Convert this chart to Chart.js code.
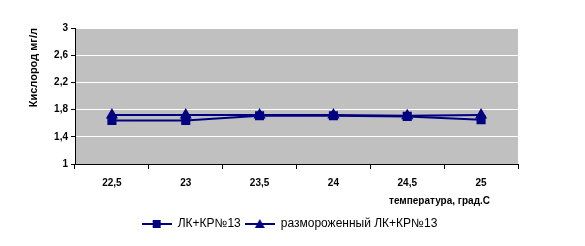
<!DOCTYPE html>
<html>
<head>
<meta charset="utf-8">
<script src="https://cdn.jsdelivr.net/npm/chart.js@4"></script>
<style>
  html, body { margin: 0; padding: 0; background: #fff; }
  #wrap { width: 585px; height: 246px; }
</style>
</head>
<body>
<div id="wrap"><canvas id="kislorodChart" width="585" height="246"></canvas></div>
<script>
// данные
const temperatury = ['22,5', '23', '23,5', '24', '24,5', '25'];
const lkKrp = [1.64, 1.64, 1.71, 1.71, 1.70, 1.65];
const razmorozhLkKrp = [1.72, 1.72, 1.72, 1.72, 1.71, 1.72];
const yTicks = [1, 1.4, 1.8, 2.2, 2.6, 3];

const navy = '#000080';

// значок для легенды: линия + маркер
function legendIcon(kind) {
    const c = document.createElement('canvas');
    c.width = 30; c.height = 10;
    const g = c.getContext('2d');
    g.strokeStyle = navy; g.fillStyle = navy; g.lineWidth = 2;
    g.beginPath(); g.moveTo(0, 5); g.lineTo(30, 5); g.stroke();
    if (kind === 'rect') {
        g.fillRect(11, 1, 8, 8);
    } else {
        g.beginPath(); g.moveTo(15, 0); g.lineTo(20, 9); g.lineTo(10, 9); g.closePath(); g.fill();
    }
    return c;
}

const plotFon = {
    id: 'plotFon',
    afterLayout(chart) {
        // легенда центрирована по всему рисунку, а не по области слева
        chart.legend.left += 17;
        chart.legend.right += 17;
    },
    beforeDraw(chart) {
        const a = chart.chartArea, ctx = chart.ctx;
        ctx.save();
        ctx.fillStyle = '#c0c0c0';
        ctx.fillRect(a.left, a.top, a.right - a.left, a.bottom - a.top);
        ctx.restore();
    },
    afterDraw(chart) {
        const ctx = chart.ctx;
        ctx.save();
        ctx.font = 'bold 10px "Liberation Sans", Arial, sans-serif';
        ctx.fillStyle = '#000';
        ctx.textAlign = 'right';
        ctx.textBaseline = 'middle';
        ctx.fillText('температура, град.С', 490, 201);
        ctx.restore();
    }
};

const ctx1 = document.getElementById('kislorodChart').getContext('2d');
const kislorodChart = new Chart(ctx1, {
    type: 'line',
    data: {
        labels: temperatury,
        datasets: [{
            label: 'ЛК+КР№13',
            data: lkKrp,
            borderColor: navy,
            backgroundColor: navy,
            borderWidth: 2,
            pointStyle: 'rect',
            pointRadius: 5,
            tension: 0
        }, {
            label: 'размороженный ЛК+КР№13',
            data: razmorozhLkKrp,
            borderColor: navy,
            backgroundColor: navy,
            borderWidth: 2,
            pointStyle: 'triangle',
            pointRadius: 5,
            tension: 0
        }]
    },
    options: {
        responsive: false,
        animation: false,
        layout: { padding: { top: 28, right: 67, left: 27, bottom: 6 } },
        plugins: {
            tooltip: { enabled: false },
            legend: {
                display: true,
                position: 'bottom',
                labels: {
                    usePointStyle: true,
                    pointStyleWidth: 30,
                    color: '#000',
                    font: { family: '"Liberation Sans", Arial, sans-serif', size: 12 },
                    padding: 4,
                    generateLabels(chart) {
                        return chart.data.datasets.map((ds, i) => ({
                            text: ds.label,
                            fillStyle: navy,
                            strokeStyle: navy,
                            lineWidth: 0,
                            pointStyle: legendIcon(ds.pointStyle),
                            datasetIndex: i,
                            fontColor: '#000'
                        }));
                    }
                }
            }
        },
        scales: {
            x: {
                offset: true,
                grid: {
                    offset: true,
                    drawOnChartArea: false,
                    drawTicks: true,
                    tickLength: 5,
                    color: '#000'
                },
                border: { color: '#000', width: 1 },
                ticks: {
                    color: '#000',
                    padding: 8,
                    font: { family: '"Liberation Sans", Arial, sans-serif', size: 10, weight: 'bold' }
                },
                afterFit(s) { s.height = 50; }
            },
            y: {
                min: 1,
                max: 3,
                afterBuildTicks(s) { s.ticks = yTicks.map(v => ({ value: v })); },
                grid: {
                    color: '#fff',
                    lineWidth: 1,
                    drawTicks: true,
                    tickLength: 4,
                    tickColor: '#000'
                },
                border: { color: '#000', width: 1 },
                ticks: {
                    color: '#000',
                    padding: 3,
                    font: { family: '"Liberation Sans", Arial, sans-serif', size: 10, weight: 'bold' },
                    callback: v => String(Math.round(v * 10) / 10).replace('.', ',')
                },
                title: {
                    display: true,
                    text: 'Кислород мг/л',
                    align: 'end',
                    color: '#000',
                    padding: { top: 0, bottom: 10 },
                    font: { family: '"Liberation Sans", Arial, sans-serif', size: 11, weight: 'bold' }
                },
                afterFit(s) { s.width = 48; }
            }
        }
    },
    plugins: [plotFon]
});
</script>
</body>
</html>
